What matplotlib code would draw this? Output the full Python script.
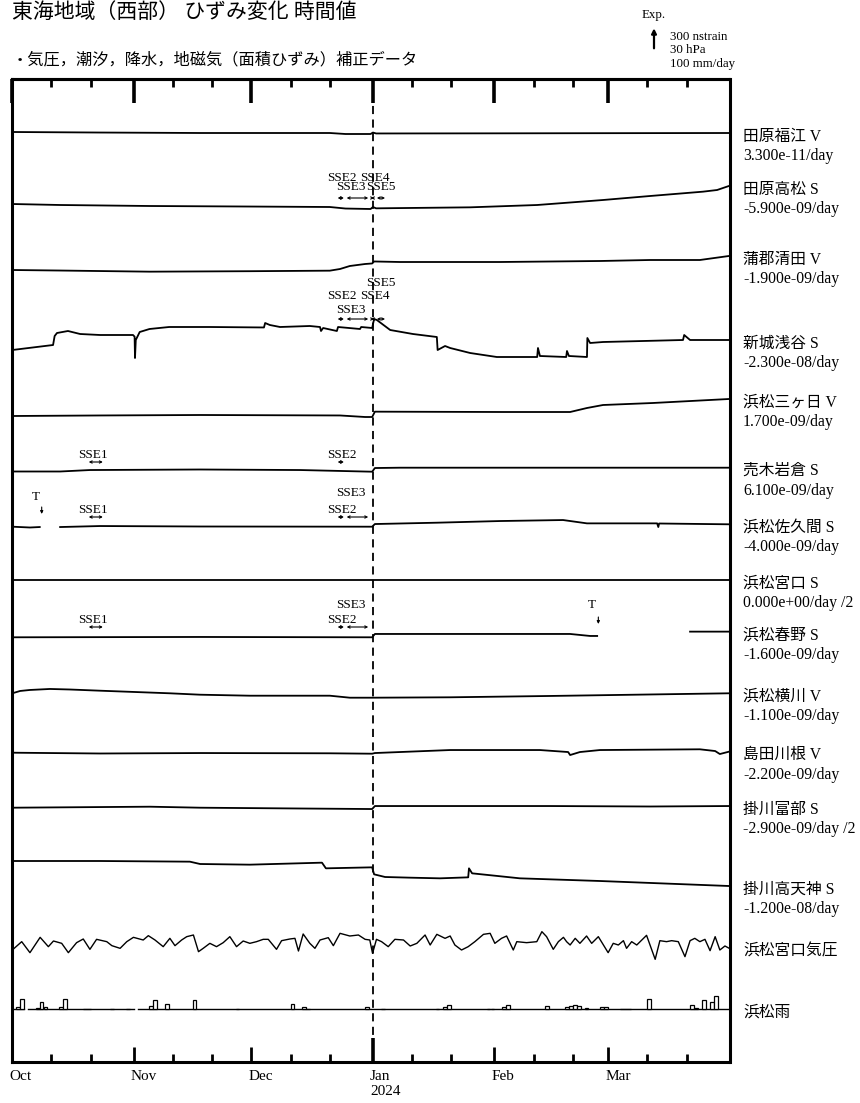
import numpy as np
import pandas as pd
import matplotlib
matplotlib.use('Agg')
import matplotlib.pyplot as plt
import matplotlib.dates as mdates
from matplotlib.ticker import FuncFormatter
from matplotlib.transforms import blended_transform_factory, ScaledTranslation

plt.rcParams['font.family'] = ['Liberation Serif', 'Noto Sans CJK JP']

W, H = 860, 1103
t0 = mdates.date2num(pd.Timestamp('2023-10-01'))

# scales: 300 nstrain / 30 hPa / 100 mm/day = 20 px
ns_per_px = 300 / 20
hpa_per_px = 30 / 20
mm_per_px = 100 / 20

names = ['田原福江 V', '田原高松 S', '蒲郡清田 V', '新城浅谷 S', '浜松三ヶ日 V',
         '売木岩倉 S', '浜松佐久間 S', '浜松宮口 S', '浜松春野 S', '浜松横川 V',
         '島田川根 V', '掛川富部 S', '掛川高天神 S']
rates = ['3.300e-11/day', '-5.900e-09/day', '-1.900e-09/day', '-2.300e-08/day',
         '1.700e-09/day', '6.100e-09/day', '-4.000e-09/day', '0.000e+00/day /2',
         '-1.600e-09/day', '-1.100e-09/day', '-2.200e-09/day', '-2.900e-09/day /2',
         '-1.200e-08/day']

# strain traces: days since 2023-10-01, nstrain (relative)
fukue_d = [0, 22.4, 48, 81, 85, 91.4, 92, 92.8, 124.4, 182.8]
fukue_v = [0, -8, -15, -15, -30, -30, -8, -22, -20, -15]

takamatsu_d = [0, 12.2, 35, 60.6, 81, 85, 91.4, 92, 92.8, 116.8, 133.9, 150.7, 162.7,
               176.2, 179.8, 182.8]
takamatsu_v = [0, -15, -30, -38, -45, -68, -75, -45, -65, -50, -15, 60, 120, 185, 210, 270]

kiyota_d = [0, 12.2, 35, 60.6, 81, 83.6, 86.1, 90, 91.8, 92.3, 98.9, 124.4, 149.9, 162.7,
            175.4, 182.8]
kiyota_v = [0, -8, -25, -18, -10, 15, 60, 90, 98, 128, 120, 120, 135, 150, 150, 210]

asaya_d = [0, 10.4, 10.8, 11.4, 14.2, 17.3, 22.4, 30.8, 31.2, 31.3, 31.5, 32.5, 35, 40,
           50.4, 64.2, 64.5, 65.7, 68.3, 75.9, 78.5, 78.75, 79.3, 82.8, 83.1, 88.7, 89,
           91.8, 92.3, 93, 96.4, 102.2, 108.3, 108.5, 110.4, 111.7, 116.8, 123.6, 133.9,
           134.1, 134.6, 141.3, 141.5, 142, 146.6, 146.7, 147.4, 150.7, 171.1, 171.4,
           172.9, 182.8]
asaya_v = [0, 75, 210, 255, 285, 240, 225, 225, 200, -120, 150, 270, 315, 345,
           345, 338, 405, 375, 345, 360, 345, 285, 330, 285, 345, 315, 345,
           330, 465, 450, 300, 240, 195, 0, 60, 30, -45, -105, -105,
           30, -90, -105, -15, -90, -105, 180, 105, 120, 150, 225,
           150, 150]

mikkabi_d = [0, 22.4, 48, 83.6, 90, 91.8, 92.5, 125.2, 142.3, 146.6, 150.7, 163.4, 182.8]
mikkabi_v = [0, 8, 15, 8, -15, -15, 65, 60, 60, 120, 165, 195, 255]

iwakura_d = [0, 12.2, 19.8, 47.9, 73.5, 91.8, 92.5, 98.9, 182.8]
iwakura_v = [0, 0, 22, 30, 22, -3, 52, 57, 57]

sakuma_d = [0, 4.5, 7, 7.3, 12.2, 22.4, 48, 91.8, 92.5, 108.3, 124.4, 140.5, 146.6,
            164.5, 164.8, 165, 182.8]
sakuma_v = [0, -12, -5, np.nan, -5, 10, 3, 0, 40, 60, 85, 100, 50, 50, -5, 48, 36]

miyaguchi_d = [0, 182.8]
miyaguchi_v = [0, 0]

haruno_d = [0, 48, 91.8, 92.5, 142.3, 147.4, 149.2, 149.3, 172.9, 182.8]
haruno_v = [0, 5, 0, 50, 50, 20, 20, np.nan, 85, 85]

yokokawa_d = [0, 2, 4.5, 9.6, 14.7, 22.4, 40.2, 47.9, 60.6, 81, 86.1, 91.8, 111.7,
              137.2, 182.8]
yokokawa_v = [0, 35, 50, 65, 57, 39, 0, -21, -36, -36, -66, -66, -60, -40, 0]

kawane_d = [0, 22.4, 48, 81, 91.8, 92.5, 111.7, 134.6, 141.8, 142.3, 144.8, 149.9,
            175.4, 179.3, 180.5, 182.8]
kawane_v = [0, -12, -5, -9, -15, -5, 40, 40, 10, -35, 10, 40, 51, 25, -20, 15]

tobe_d = [0, 35.1, 47.9, 73.4, 91.8, 92.5, 137.2, 162.7, 182.8]
tobe_v = [0, 15, 0, -12, -20, 25, 25, 18, 25]

takatenjin_d = [0, 22.4, 45.3, 47.9, 60.6, 79, 80, 91.8, 92.3, 95.1, 101.5, 109.1,
                116.3, 116.5, 117.3, 129.5, 149.9, 182.8]
takatenjin_v = [0, 0, -10, -45, -55, -25, -110, -95, -200, -240, -250, -260,
                -245, -110, -185, -260, -300, -375]

# Hamamatsu Miyaguchi air pressure (hPa)
press_d = [0, 2.4, 4.5, 7.1, 9.2, 10.5, 12.6, 14.3, 16.4, 18.1, 19.8, 21.5, 24.1, 25.4,
           27.5, 29.2, 30.9, 33.4, 34.7, 36.4, 38.5, 40.2, 41.5, 43.2, 44.5, 46.2, 47.5,
           48.7, 50.4, 52.1, 53.8, 55.5, 57.2, 58.9, 60.6, 62.3, 64.0, 65.3, 67.4, 68.7,
           70.8, 72.1, 73.0, 74.2, 75.9, 77.2, 78.5, 80.6, 81.9, 83.6, 86.1, 88.3, 90.0,
           91.2, 91.9, 92.9, 94.2, 95.9, 97.6, 99.8, 101.5, 103.2, 105.3, 106.6, 108.3,
           110.4, 111.7, 112.9, 114.6, 116.3, 118.0, 120.2, 121.9, 123.1, 124.8, 126.1,
           127.8, 128.7, 131.2, 133.8, 135.1, 136.3, 138.0, 139.3, 140.6, 141.4, 142.3,
           143.6, 144.8, 146.5, 147.8, 149.5, 152.0, 153.3, 154.6, 155.9, 156.7, 158.0,
           159.3, 161.8, 164.0, 165.2, 166.9, 168.2, 169.9, 171.6, 172.9, 174.1, 175.4,
           176.7, 178.0, 179.3, 180.5, 181.8, 182.9]
press_v = [1003, 1015.5, 999, 1022, 1008, 1016.5, 1013, 999, 1014, 1019.5, 1004, 1019,
           1015.5, 1009.5, 1005.5, 1015.5, 1022, 1018, 1024.5, 1018, 1008, 1020.5, 1009.5,
           1018, 1023, 1025.5, 1000.5, 1005.5, 1013, 1008, 1014, 1023, 1008, 1016.5, 1013,
           1015.5, 1019, 1019, 1004, 1017, 1019.5, 1020.5, 1001.5, 1027, 1013, 1005.5, 1018,
           1021.5, 1009.5, 1028, 1024, 1025.5, 1019, 1018, 998, 1019, 1015.5, 1008, 1019,
           1018, 1009, 1013, 1025.5, 1010.5, 1026.5, 1020.5, 1024, 1010.5, 1003, 1008,
           1015.5, 1026.5, 1028, 1013, 1020.5, 1024, 1003, 1015.5, 1014, 1015.5, 1030.5,
           1023, 1004, 1015.5, 1022, 1015.5, 1010.5, 1020.5, 1013, 1024, 1013, 1023, 999,
           1013, 1010.5, 1017, 1005.5, 1015.5, 1010.5, 1025, 989, 1017, 1015.5, 1017,
           1015.5, 993, 1017, 1020.5, 1015.5, 1019, 1002, 1023, 1003, 1009, 1005.5]

# Hamamatsu daily rain (mm/day)
rain_days = [1, 2, 6, 7, 8, 12, 13, 18, 19, 25, 29, 35, 36, 39, 46, 57, 71, 74, 75, 90, 94,
             108, 110, 111, 121, 122, 125, 126, 136, 141, 142, 143, 144, 146, 150, 151,
             155, 156, 157, 162, 173, 174, 176, 178, 179]
rain_mm = [10, 52, 5, 38, 10, 10, 50, 2, 2, 2, 2, 17, 47, 25, 47, 2, 27, 10, 4, 13, 2,
           2, 10, 20, 2, 2, 10, 20, 17, 13, 17, 23, 17, 8, 10, 10,
           2, 2, 2, 50, 22, 5, 47, 38, 67]
rain_missing = [3, 31]

# slow slip event periods
sse_names = ['SSE1', 'SSE2', 'SSE3', 'SSE4', 'SSE5']
sse_start = [19.5, 83.0, 85.3, 91.5, 93.0]
sse_end = [23.1, 84.6, 90.8, 92.3, 95.1]

# T (data gap) marks: station index, day
t_marks = [(6, 7.5), (8, 149.5)]

traces = [(fukue_d, fukue_v), (takamatsu_d, takamatsu_v), (kiyota_d, kiyota_v),
          (asaya_d, asaya_v), (mikkabi_d, mikkabi_v), (iwakura_d, iwakura_v),
          (sakuma_d, sakuma_v), (miyaguchi_d, miyaguchi_v), (haruno_d, haruno_v),
          (yokokawa_d, yokokawa_v), (kawane_d, kawane_v), (tobe_d, tobe_v),
          (takatenjin_d, takatenjin_v)]

# layout (figure pixel rows)
offsets = [132, 204, 270, 350, 416, 471.5, 526.7, 580, 637.3, 693.3, 752.7, 807.7, 861]
press_ref, press_px = 1018, 940
rain_base = 1009.3
sse_layout = {
    1: (198, {'SSE2': 178, 'SSE4': 178, 'SSE3': 187, 'SSE5': 187}),
    3: (319, {'SSE5': 283, 'SSE2': 296, 'SSE4': 296, 'SSE3': 310}),
    5: (462, {'SSE1': 455, 'SSE2': 455}),
    6: (517, {'SSE1': 510, 'SSE2': 510, 'SSE3': 493}),
    8: (627, {'SSE1': 620, 'SSE2': 620, 'SSE3': 605}),
}
t_layout = {6: (497, 507, 514), 8: (605, 617, 624)}

fig = plt.figure(figsize=(W / 100, H / 100), dpi=100)
ax = fig.add_axes([12.3 / W, 1 - 1062 / H, (729.5 - 12.3) / W, (1062 - 79) / H])
ax.set_xlim(t0, t0 + 182.96)
ax.set_ylim(1062, 79)
ax.set_yticks([])
for s in ax.spines.values():
    s.set_linewidth(2.2)

jan1 = t0 + 92
ax.axvline(jan1, color='k', lw=1.3, ls=(0, (4.5, 3)), zorder=1)

right = blended_transform_factory(ax.transAxes, ax.transData)


def side_label(y, name, rate=None):
    ax.annotate(name, xy=(1, y), xycoords=right, xytext=(9.7, -2.5),
                textcoords='offset points', va='center', ha='left', fontsize=11.3,
                annotation_clip=False)
    if rate:
        ax.annotate(rate, xy=(1, y), xycoords=right, xytext=(9.7, -16.6),
                    textcoords='offset points', va='center', ha='left', fontsize=11.3,
                    annotation_clip=False)


# strain traces
for i, (d, v) in enumerate(traces):
    y = offsets[i] - np.array(v, float) / ns_per_px
    ax.plot(t0 + np.array(d), y, color='k', lw=1.3, zorder=2)
    side_label(y[-1], names[i], rates[i])

# pressure
py = press_px - (np.array(press_v) - press_ref) / hpa_per_px
ax.plot(t0 + np.array(press_d), py, color='k', lw=1.0, zorder=2)
side_label(py[-1], '浜松宮口気圧')

# rain
daily = np.zeros(183)
daily[rain_days] = rain_mm
daily[rain_missing] = np.nan
line_y = np.where(np.isnan(daily), np.nan, rain_base)
ax.plot(t0 + np.arange(184), np.append(line_y, line_y[-1]), color='k', lw=1.0,
        drawstyle='steps-post', zorder=2)
wet = np.nan_to_num(daily) > 0
ax.bar(t0 + np.arange(183)[wet], -daily[wet] / mm_per_px, bottom=rain_base, width=0.95,
       align='edge', facecolor='white', edgecolor='k', lw=0.9, zorder=3)
side_label(rain_base, '浜松雨')

# SSE annotations
for i, (arrow_y, labels) in sse_layout.items():
    for name, ly in labels.items():
        k = sse_names.index(name)
        ax.annotate('', xy=(t0 + sse_end[k], arrow_y), xytext=(t0 + sse_start[k], arrow_y),
                    arrowprops=dict(arrowstyle='<->', lw=0.8, color='k',
                                    mutation_scale=4, shrinkA=0, shrinkB=0))
        ax.text(t0 + sse_start[k] + 1, ly, name, ha='center', va='center', fontsize=9.5)

for i, day in t_marks:
    ty, a0, a1 = t_layout[i]
    ax.annotate('', xy=(t0 + day, a1), xytext=(t0 + day, a0),
                arrowprops=dict(arrowstyle='-|>', lw=0.8, color='k', mutation_scale=4,
                                shrinkA=0, shrinkB=0))
    ax.text(t0 + day - 1.6, ty, 'T', ha='center', va='center', fontsize=9.5)

# time axis
ax.xaxis.set_major_locator(mdates.MonthLocator())
ax.xaxis.set_minor_locator(mdates.DayLocator(bymonthday=[11, 21]))


def month_label(x, pos):
    dt = mdates.num2date(x)
    s = dt.strftime('%b')
    if dt.month == 1:
        s += '\n' + str(dt.year)
    return s


ax.xaxis.set_major_formatter(FuncFormatter(month_label))
ax.tick_params(axis='x', which='major', direction='in', length=11, width=2, pad=6,
               labelsize=11)
ax.tick_params(axis='x', which='minor', direction='in', length=5.8, width=2)

top = ax.secondary_xaxis('top')
top.xaxis.set_major_locator(mdates.MonthLocator())
top.xaxis.set_minor_locator(mdates.DayLocator(bymonthday=[11, 21]))
top.tick_params(which='major', direction='in', length=7.5, width=2, labeltop=False)
top.tick_params(which='minor', direction='in', length=6, width=2)
top.spines['top'].set_linewidth(2.2)

shift = ScaledTranslation(-3 / 100, 0, fig.dpi_scale_trans)
for axis in (ax.xaxis, top.xaxis):
    locs = axis.get_majorticklocs()
    for loc, tk in zip(locs, axis.get_major_ticks(len(locs))):
        if mdates.num2date(loc).month == 1:
            tk.tick1line.set_markersize(17.5)
            tk.tick1line.set_markeredgewidth(2.6)
            tk.tick2line.set_markersize(17.5)
            tk.tick2line.set_markeredgewidth(2.6)
for lab in ax.get_xticklabels():
    lab.set_horizontalalignment('left')
    lab.set_multialignment('left')
    lab.set_transform(lab.get_transform() + shift)

# header
fig.text(12 / W, 1 - 13 / H, '東海地域（西部） ひずみ変化 時間値', fontsize=15, va='center')
fig.text(12 / W, 1 - 60 / H, '・気圧，潮汐，降水，地磁気（面積ひずみ）補正データ',
         fontsize=11.7, va='center')

# scale arrow
ax.annotate('', xy=(654, H - 48.3 + 300 / ns_per_px), xytext=(654, H - 48.3),
            xycoords='figure pixels', textcoords='figure pixels',
            arrowprops=dict(arrowstyle='-|>', lw=1.6, color='k', mutation_scale=7,
                            shrinkA=0, shrinkB=0), annotation_clip=False)
fig.text(654 / W, 1 - 15 / H, 'Exp.', fontsize=9.3, ha='center', va='center')
for yy, s in zip([37, 50, 64], ['300 nstrain', '30 hPa', '100 mm/day']):
    fig.text(670 / W, 1 - yy / H, s, fontsize=9.3, va='center')

fig.savefig('out.png', dpi=100)
